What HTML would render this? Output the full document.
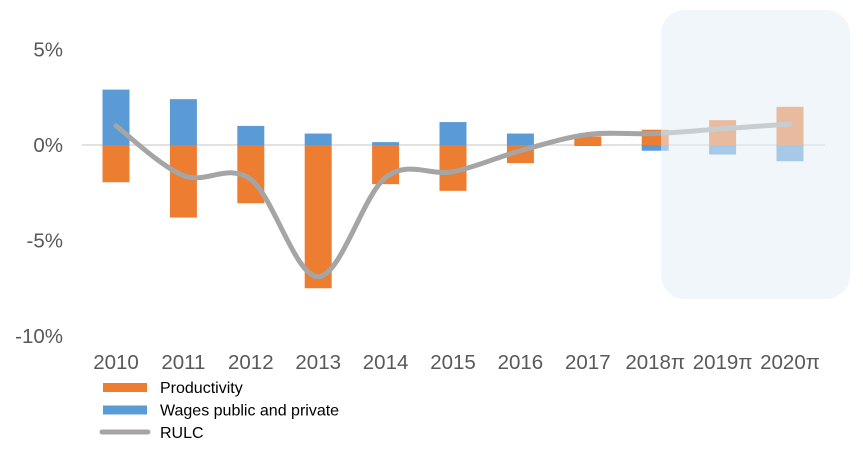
<!DOCTYPE html>
<html><head><meta charset="utf-8"><style>
body{margin:0;background:#fff;width:863px;height:455px;overflow:hidden;font-family:"Liberation Sans",sans-serif}
text{font-family:"Liberation Sans",sans-serif}
</style></head><body>
<svg id="c" width="863" height="455"></svg>
<script>
const categories=["2010","2011","2012","2013","2014","2015","2016","2017","2018π","2019π","2020π"];
const productivity=[-1.95,-3.8,-3.05,-7.5,-2.05,-2.4,-0.95,0.45,0.8,1.3,2.0];
const wages=[2.9,2.4,1.0,0.6,0.15,1.2,0.6,-0.05,-0.3,-0.5,-0.85];
const rulc=[1.0,-1.6,-1.8,-6.9,-1.7,-1.4,-0.3,0.55,0.6,0.85,1.1];
const yTicks=[5,0,-5,-10];
const yTickLabels=["5%","0%","-5%","-10%"];
const NS="http://www.w3.org/2000/svg";
const svg=document.getElementById('c');
const y=v=>145-v*19.1;
const x=i=>116+i*67.4;
function mk(t,a,p){const e=document.createElementNS(NS,t);for(const k in a)e.setAttribute(k,a[k]);(p||svg).appendChild(e);return e;}
yTicks.forEach((t,i)=>{const e=mk('text',{x:63,y:y(t)+7,'text-anchor':'end','font-size':20.5,fill:'#595959'});e.textContent=yTickLabels[i];

});
const zl=mk('line',{x1:82,x2:825,y1:y(0),y2:y(0),stroke:'#d9d9d9','stroke-width':1.5});


const bw=27;
categories.forEach((c,i)=>{
 const p=productivity[i],w=wages[i];
 const b1=mk('rect',{x:x(i)-bw/2,y:Math.min(y(p),y(0)),width:bw,height:Math.abs(y(p)-y(0)),fill:'#ed7d31'});
 
 
 const b2=mk('rect',{x:x(i)-bw/2,y:Math.min(y(w),y(0)),width:bw,height:Math.abs(y(w)-y(0)),fill:'#5b9bd5'});
 
 
 const t=mk('text',{x:x(i),y:369,'text-anchor':'middle','font-size':20.5,fill:'#595959'});t.textContent=c;
 
 
});
const pts=rulc.map((v,i)=>[x(i),y(v)]);
let d='M'+pts[0][0]+','+pts[0][1];
for(let i=0;i<pts.length-1;i++){const p0=pts[Math.max(i-1,0)],p1=pts[i],p2=pts[i+1],p3=pts[Math.min(i+2,pts.length-1)];
 d+=` C${p1[0]+(p2[0]-p0[0])/6},${p1[1]+(p2[1]-p0[1])/6} ${p2[0]-(p3[0]-p1[0])/6},${p2[1]-(p3[1]-p1[1])/6} ${p2[0]},${p2[1]}`;}
const ln=mk('path',{d:d,fill:'none',stroke:'#a5a5a5','stroke-width':5,'stroke-linecap':'round'});


const ov=mk('rect',{x:661,y:10,width:189,height:289,rx:24,fill:'#e6eef8','fill-opacity':0.55});


const leg=[['Productivity','#ed7d31','rect'],['Wages public and private','#5b9bd5','rect'],['RULC','#a5a5a5','line']];
leg.forEach((l,i)=>{const cy=387+i*22.5;
 const g=mk('g',{});
 
 
 if(l[2]=='rect')mk('rect',{x:103,y:cy-4,width:44,height:9,fill:l[1]},g);
 else mk('line',{x1:102,x2:148,y1:cy,y2:cy,stroke:l[1],'stroke-width':5,'stroke-linecap':'round'},g);
 const t=mk('text',{x:160,y:cy+6,'font-size':16,fill:'#000'},g);t.textContent=l[0];});
</script>
</body></html>
